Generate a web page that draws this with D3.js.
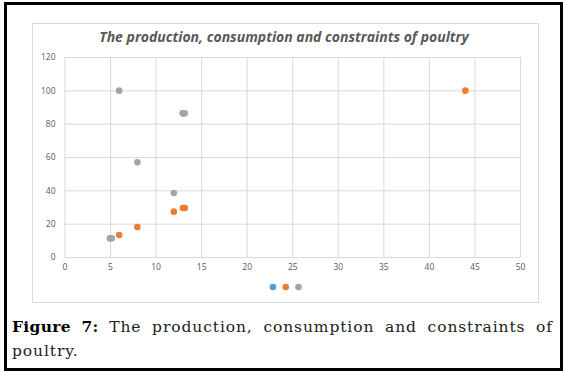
<!DOCTYPE html>
<html>
<head>
<meta charset="utf-8">
<script src="https://cdn.jsdelivr.net/npm/d3@7/dist/d3.min.js"></script>
<style>
	html, body { margin: 0; padding: 0; background: #fff; }
	#wrap { position: relative; width: 565px; height: 372px; overflow: hidden; }
	#frame { position: absolute; left: 4px; top: 2px; width: 553px; height: 363px; border: 3px solid #000; }
	.caption { position: absolute; left: 12px; width: 541px; font-family: 'DejaVu Serif', serif; font-size: 15.5px; letter-spacing: 0.9px; color: #222; white-space: nowrap; }
	.caption.l1 { top: 317px; text-align: justify; text-align-last: justify; white-space: normal; }
	.caption.l2 { top: 342px; }
	.caption b { font-weight: bold; color: #000; letter-spacing: 0.3px; }
</style>
</head>
<body>
<div id="wrap">
	<div id="frame"></div>
	<div id="chart"></div>
	<div class="caption l1"><b>Figure 7:</b> The production, consumption and constraints of</div>
	<div class="caption l2">poultry.</div>
</div>
<script>
// ----------------------------------
// DATA
// ----------------------------------
const chartTitle = 'The production, consumption and constraints of poultry';
const xTicks = [0, 5, 10, 15, 20, 25, 30, 35, 40, 45, 50];
const yTicks = [0, 20, 40, 60, 80, 100, 120];

const seriesNames = ['Series1', 'Series2', 'Series3'];
const seriesColors = ['#5B9BD5', '#ED7D31', '#A5A5A5'];

// blue series sits underneath the others
const blueX = [5, 13];
const blueY = [11.2, 86.2];
const orangeX = [6, 8, 12, 13, 13.2, 44];
const orangeY = [13.2, 18, 27.2, 29.4, 29.4, 99.8];
const grayX = [5, 5.2, 6, 8, 12, 13, 13.2];
const grayY = [11.2, 11.2, 99.8, 56.8, 38.4, 86.2, 86.2];

const seriesX = [blueX, orangeX, grayX];
const seriesY = [blueY, orangeY, grayY];

// ----------------------------------
// SVG
// ----------------------------------
const width = 565, height = 372;
const margin = {left: 64.5, right: 45, top: 57, bottom: 115};

const svg = d3.select('#chart')
	.append('svg')
	.attr('width', width)
	.attr('height', height)
	.style('position', 'absolute')
	.style('left', 0)
	.style('top', 0);

// chart area box
svg.append('rect')
	.attr('x', 32.5)
	.attr('y', 23.5)
	.attr('width', 506)
	.attr('height', 279)
	.attr('fill', '#fff')
	.attr('stroke', '#d9d9d9');

svg.append('text')
	.text(chartTitle)
	.attr('x', 284)
	.attr('y', 42)
	.attr('text-anchor', 'middle')
	.style('font-family', '"Open Sans", sans-serif')
	.style('font-style', 'italic')
	.style('font-weight', 'bold')
	.style('font-size', '14px')
	.attr('fill', '#595959');

// ----------------------------------
// SCALES
// ----------------------------------
const xScale = d3.scaleLinear()
	.domain([0, 50])
	.range([margin.left, width - margin.right]);

const yScale = d3.scaleLinear()
	.domain([0, 120])
	.range([height - margin.bottom, margin.top]);

// ----------------------------------
// AXES / GRID
// ----------------------------------
const xAxis = svg.append('g')
	.attr('transform', `translate(0, ${yScale(0)})`)
	.call(d3.axisBottom(xScale).tickValues(xTicks).tickSize(-(yScale(0) - yScale(120))).tickPadding(7));

const yAxis = svg.append('g')
	.attr('transform', `translate(${xScale(0)}, 0)`)
	.call(d3.axisLeft(yScale).tickValues(yTicks).tickSize(-(xScale(50) - xScale(0))).tickPadding(9));

[xAxis, yAxis].forEach(ax => {
	ax.select('.domain').remove();
	ax.selectAll('.tick line').attr('stroke', '#d9d9d9');
	ax.selectAll('.tick text')
		.attr('fill', '#595959')
		.style('font-family', '"Open Sans", sans-serif')
		.style('font-size', '8.5px');
});

// ----------------------------------
// POINTS
// ----------------------------------
seriesNames.forEach((name, i) => {
	const pts = seriesX[i].map((x, j) => ({x: x, y: seriesY[i][j]}));
	svg.append('g')
		.selectAll('circle')
		.data(pts)
		.join('circle')
		.attr('cx', d => xScale(d.x))
		.attr('cy', d => yScale(d.y))
		.attr('r', 3.3)
		.attr('fill', seriesColors[i]);
});

// legend, empty series names so only markers
const legendX = d3.scalePoint()
	.domain(seriesNames)
	.range([273, 298.5]);

svg.append('g')
	.selectAll('circle')
	.data(seriesNames)
	.join('circle')
	.attr('cx', d => legendX(d))
	.attr('cy', 287)
	.attr('r', 3.3)
	.attr('fill', (d, i) => seriesColors[i]);
</script>
</body>
</html>
